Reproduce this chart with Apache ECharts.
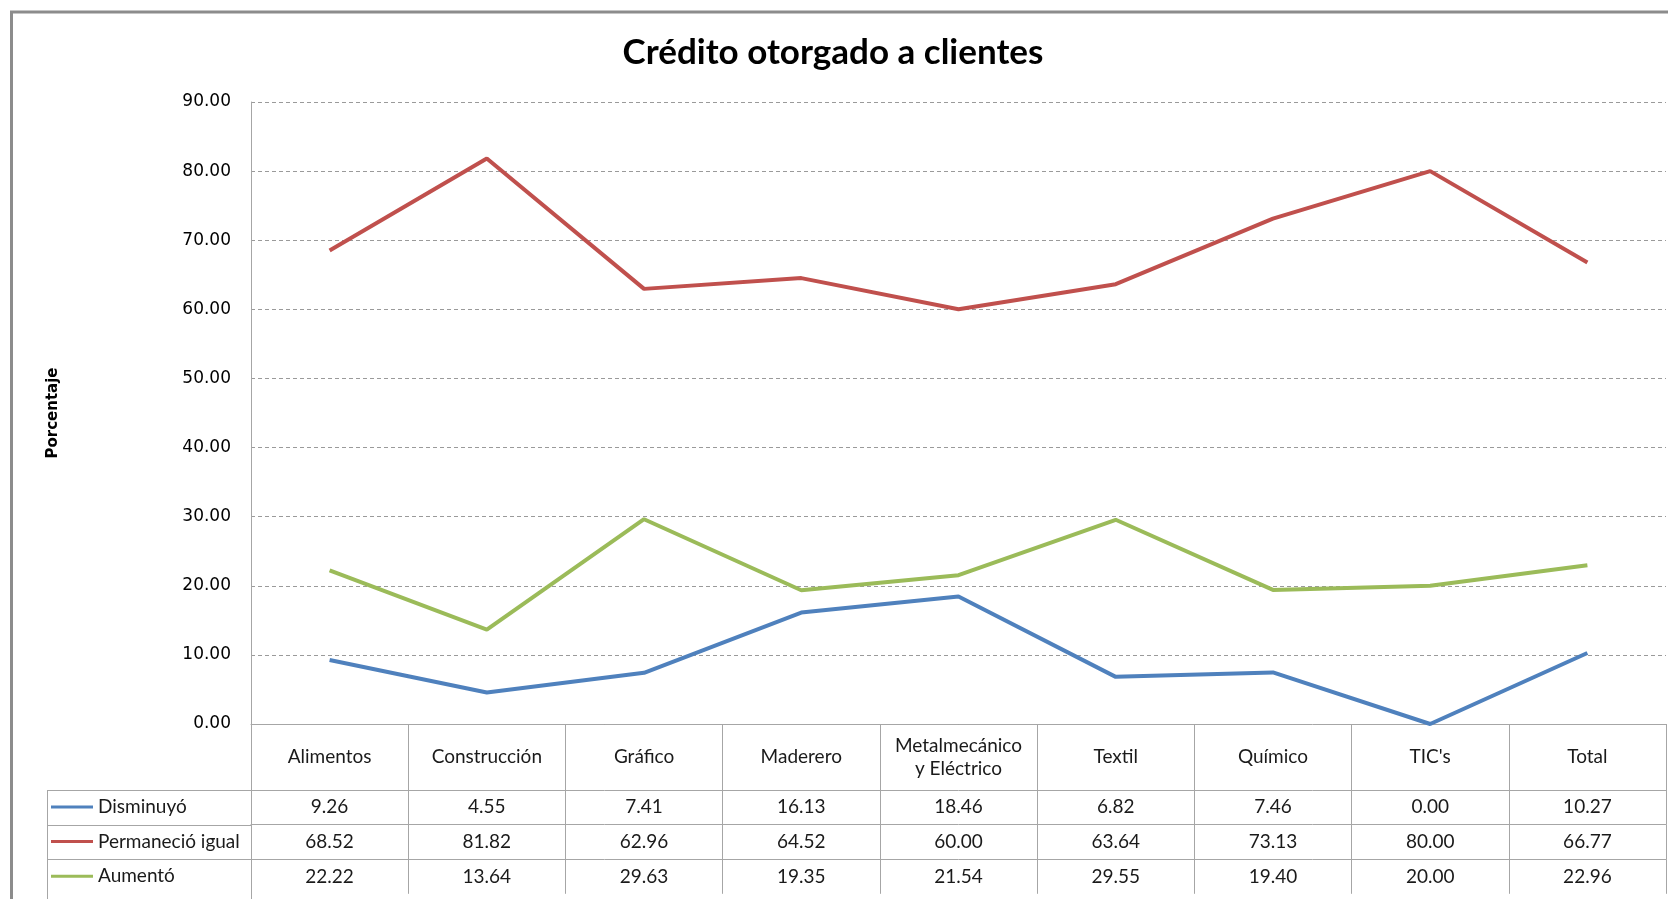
<!DOCTYPE html>
<html>
<head>
<meta charset="utf-8">
<script src="https://cdn.jsdelivr.net/npm/echarts@6/dist/echarts.min.js"></script>
<style>
html,body{margin:0;padding:0;background:#fff;}
#chart{width:1668px;height:899px;}
</style>
</head>
<body>
<div id="chart"></div>
<script>
var categories = ['Alimentos', 'Construcción', 'Gráfico', 'Maderero', 'Metalmecánico\ny Eléctrico', 'Textil', 'Químico', "TIC's", 'Total'];
var disminuyo = [9.26, 4.55, 7.41, 16.13, 18.46, 6.82, 7.46, 0.00, 10.27];
var permanecio = [68.52, 81.82, 62.96, 64.52, 60.00, 63.64, 73.13, 80.00, 66.77];
var aumento = [22.22, 13.64, 29.63, 19.35, 21.54, 29.55, 19.40, 20.00, 22.96];
var seriesNames = ['Disminuyó', 'Permaneció igual', 'Aumentó'];
var yTicks = [0, 10, 20, 30, 40, 50, 60, 70, 80, 90];

var seriesData = [disminuyo, permanecio, aumento];
var colors = ['#4F81BD', '#C0504D', '#9BBB59'];
var tableFont = 'Lato, "Open Sans", sans-serif';
var lineGray = '#a6a6a6';

var headerH = 66;
var rowH = 34.6;

function rowAxis(i) {
  return {
    type: 'category',
    data: categories,
    gridIndex: 0,
    position: 'bottom',
    offset: headerH + rowH * i,
    boundaryGap: true,
    axisLine: { show: true, lineStyle: { color: lineGray, width: 1 } },
    axisTick: { show: true, interval: 0, length: rowH, lineStyle: { color: lineGray, width: 1 } },
    axisLabel: {
      interval: 0, margin: rowH / 2, verticalAlign: 'middle',
      fontFamily: tableFont, fontSize: 19, color: '#1a1a1a',
      formatter: function (v, idx) { return seriesData[i][idx].toFixed(2); }
    },
    splitLine: { show: false }
  };
}

var chart = echarts.init(document.getElementById('chart'), null, { renderer: 'canvas' });
var gridLeft = 251, gridTop = 102, gridBottomY = 724;
var option = {
  animation: false,
  backgroundColor: '#ffffff',
  title: {
    text: 'Crédito otorgado a clientes',
    left: 828, top: 30, textAlign: 'center',
    textStyle: { fontFamily: tableFont, fontWeight: 'bold', fontSize: 35, color: '#000' }
  },
  legend: {
    orient: 'vertical',
    left: 51, top: 797, padding: 0,
    icon: 'rect', itemWidth: 42, itemHeight: 3, itemGap: rowH - 20,
    data: seriesNames,
    textStyle: { fontFamily: tableFont, fontSize: 19, color: '#1a1a1a', lineHeight: 20, padding: [0,0,0,0] },
    selectedMode: false
  },
  grid: { left: gridLeft, right: 2, top: gridTop, bottom: 899 - gridBottomY, containLabel: false },
  xAxis: [
    {
      type: 'category', data: categories, position: 'bottom', boundaryGap: true,
      axisLine: { show: true, lineStyle: { color: lineGray, width: 1 } },
      axisTick: { show: true, interval: 0, length: headerH, lineStyle: { color: lineGray, width: 1 } },
      axisLabel: { interval: 0, margin: headerH / 2, verticalAlign: 'middle', lineHeight: 23,
        fontFamily: tableFont, fontSize: 19, color: '#1a1a1a' },
      splitLine: { show: false }
    },
    rowAxis(0), rowAxis(1), rowAxis(2)
  ],
  yAxis: {
    type: 'value', min: yTicks[0], max: yTicks[yTicks.length - 1], interval: 10,
    name: 'Porcentaje', nameLocation: 'middle', nameGap: 190, nameRotate: 90,
    nameTextStyle: { fontFamily: 'DejaVu Sans', fontWeight: 'bold', fontSize: 15, color: '#000' },
    axisLine: { show: true, lineStyle: { color: lineGray, width: 1 } },
    axisTick: { show: false },
    axisLabel: { margin: 20, fontFamily: 'DejaVu Sans', fontSize: 17, color: '#000',
      formatter: function (v) { return v.toFixed(2); } },
    splitLine: { show: true, lineStyle: { color: '#9a9a9a', type: [4, 3], width: 1 } }
  },
  series: seriesNames.map(function (n, i) {
    return {
      name: n, type: 'line', data: seriesData[i], xAxisIndex: 0,
      symbol: 'none', lineStyle: { width: 4, color: colors[i] }, itemStyle: { color: colors[i] }
    };
  }),
  graphic: []
};
chart.setOption(option);

// Legend column borders (left of the data table), aligned with the axis rows
var y0 = chart.convertToPixel({ yAxisIndex: 0 }, 0);
var graphics = [];
var legLeft = 47;
for (var r = 0; r < 3; r++) {
  var yy = Math.round(y0 + headerH + rowH * r) + 0.5;
  graphics.push({ type: 'line', shape: { x1: legLeft, y1: yy, x2: gridLeft, y2: yy },
    style: { stroke: lineGray, lineWidth: 1 }, silent: true });
}
graphics.push({ type: 'line', shape: { x1: legLeft + 0.5, y1: Math.round(y0 + headerH), x2: legLeft + 0.5, y2: 899 },
  style: { stroke: lineGray, lineWidth: 1 }, silent: true });
graphics.push({ type: 'line', shape: { x1: gridLeft + 0.5, y1: y0 + headerH, x2: gridLeft + 0.5, y2: 899 },
  style: { stroke: lineGray, lineWidth: 1 }, silent: true });
// outer chart-area border
graphics.push({ type: 'rect', shape: { x: 11.5, y: 12, width: 1800, height: 1000 },
  style: { fill: null, stroke: '#8c8c8c', lineWidth: 3 }, silent: true, z: 100 });
chart.setOption({ graphic: graphics });
</script>
</body>
</html>
